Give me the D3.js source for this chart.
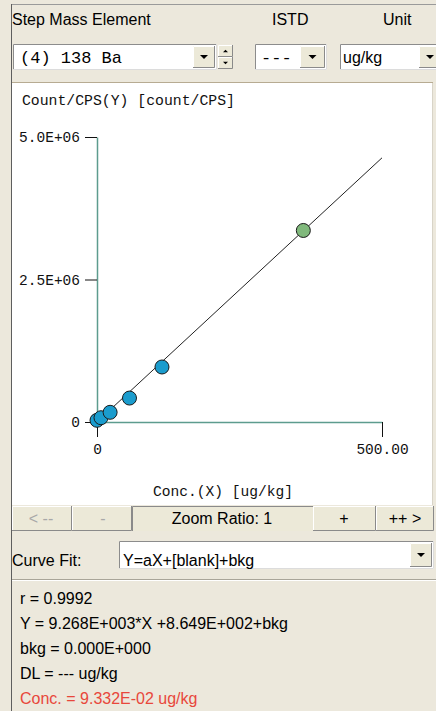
<!DOCTYPE html>
<html>
<head>
<meta charset="utf-8">
<title>Calibration curve - 138 Ba</title>
<script src="https://d3js.org/d3.v7.min.js"></script>
<style>
body { margin:0; background:#ece8dc; }
svg { display:block; }
.ui { font: 16px "Liberation Sans", Arial, sans-serif; fill:#000; }
.mono { font-family: "Liberation Mono", "DejaVu Sans Mono", monospace; font-size:17px; }
.dis { fill:#a8a8a8; }
.red { fill:#e8473b; }
.plot-text { font: 15px "Liberation Mono", monospace; fill:#111; }
.axis .domain { stroke:#5d9c8e; stroke-width:1.5px; }
.axis .tick line { stroke:#111; }
.axis .tick text { font: 14.5px "Liberation Mono", monospace; fill:#111; }
.fit { stroke:#222; stroke-width:1px; fill:none; }
</style>
</head>
<body>
<svg id="chart" width="436" height="711"></svg>
<script>
// calibration standards: conc (ug/kg) and signal (count/CPS)
const concX = [0, 7, 23, 57, 114, 362];
const countY = [30000, 75000, 170000, 420000, 965000, 3360000];
const highlight = 5; // last standard drawn green
const xTicks = [0, 500];
const yTicks = [0, 2.5e6, 5e6];
// fit: Y = a*X + b
const fitA = 9.268e3;
const fitB = 8.649e2;
const statLines = [
  "r = 0.9992",
  "Y = 9.268E+003*X +8.649E+002+bkg",
  "bkg = 0.000E+000",
  "DL = --- ug/kg",
  "Conc. = 9.332E-02 ug/kg"
];

const svg = d3.select("#chart");
const face = "#ece9d8";

//---- little windows widgets
function raised(x, y, w, h) {
  svg.append("rect").attr("x", x).attr("y", y).attr("width", w).attr("height", h).attr("fill", face);
  svg.append("path").attr("d", `M${x+0.5},${y+h}V${y+0.5}H${x+w}`).attr("stroke", "#fff").attr("fill", "none");
  svg.append("path").attr("d", `M${x},${y+h-0.5}H${x+w-0.5}V${y}`).attr("stroke", "#8a8a8a").attr("fill", "none");
}
function sunken(x, y, w, h) {
  svg.append("rect").attr("x", x).attr("y", y).attr("width", w).attr("height", h).attr("fill", "#fff");
  svg.append("path").attr("d", `M${x+0.5},${y+h}V${y+0.5}H${x+w}`).attr("stroke", "#8c8c8c").attr("fill", "none");
  svg.append("path").attr("d", `M${x},${y+h-0.5}H${x+w-0.5}V${y}`).attr("stroke", "#dcdcdc").attr("fill", "none");
}
function arrow(cx, cy, s, up) {
  const d = up ? `M${cx-s},${cy+s/2}L${cx+s},${cy+s/2}L${cx},${cy-s/2}Z`
               : `M${cx-s},${cy-s/2}L${cx+s},${cy-s/2}L${cx},${cy+s/2}Z`;
  svg.append("path").attr("d", d).attr("fill", "#000");
}
function dropBtn(x, y, w, h) {
  raised(x, y, w, h);
  arrow(x + w/2, y + h/2, 4, false);
}
function label(txt, x, y, cls, anchor) {
  return svg.append("text").attr("class", cls).attr("x", x).attr("y", y)
    .attr("text-anchor", anchor || "start").text(txt);
}

// window frame
svg.append("line").attr("x1", 11).attr("x2", 436).attr("y1", 4.5).attr("y2", 4.5).attr("stroke", "#9a9a9a");

// header row
label("Step Mass Element", 12, 25, "ui");
label("ISTD", 272, 25, "ui");
label("Unit", 383, 25, "ui");

// element combo
sunken(13, 44, 204, 26);
label("(4) 138 Ba", 20, 63, "mono");
dropBtn(193, 46, 22, 22);
// spinner
raised(218, 45, 15, 12);
raised(218, 57, 15, 12);
arrow(225.5, 51, 2.5, true);
arrow(225.5, 63, 2.5, false);
// ISTD combo
sunken(255, 44, 72, 26);
label("---", 261, 63, "mono");
dropBtn(300, 46, 25, 22);
// unit combo
sunken(340, 44, 100, 26);
label("ug/kg", 343, 63, "ui");
dropBtn(419, 46, 22, 22);

// plot panel
svg.append("rect").attr("x", 12).attr("y", 83).attr("width", 421).attr("height", 422).attr("fill", "#fff");
svg.append("line").attr("x1", 12).attr("x2", 433).attr("y1", 82.5).attr("y2", 82.5).attr("stroke", "#b7ab92");
svg.append("line").attr("x1", 432.5).attr("x2", 432.5).attr("y1", 83).attr("y2", 505).attr("stroke", "#d8d4c8");

//---- chart
const x = d3.scaleLinear().domain([0, 500]).range([97, 382]);
const y = d3.scaleLinear().domain([0, 5e6]).range([422, 137]);

function fmtE(d) {
  if (d === 0) return "0";
  const p = d.toExponential(1).split("e");
  const n = +p[1];
  return p[0] + "E" + (n < 0 ? "-" : "+") + String(Math.abs(n)).padStart(2, "0");
}

label("Count/CPS(Y) [count/CPS]", 22, 105, "plot-text").attr("textLength", 213).attr("lengthAdjust", "spacingAndGlyphs");

svg.append("g").attr("class", "axis")
  .attr("transform", `translate(${x(0)},0)`)
  .call(d3.axisLeft(y).tickValues(yTicks).tickSize(12).tickSizeOuter(0).tickPadding(5).tickFormat(fmtE));

svg.append("g").attr("class", "axis")
  .attr("transform", `translate(0,${y(0)})`)
  .call(d3.axisBottom(x).tickValues(xTicks).tickSize(15).tickSizeOuter(0).tickPadding(7)
    .tickFormat(d => d === 0 ? "0" : d.toFixed(2)));

svg.selectAll(".axis text").attr("fill", "#111");

label("Conc.(X) [ug/kg]", 153, 496, "plot-text").attr("textLength", 140).attr("lengthAdjust", "spacingAndGlyphs");

const fitLine = d3.line().x(d => x(d)).y(d => y(fitA * d + fitB));
svg.append("path").attr("class", "fit").attr("d", fitLine(x.domain()));

svg.selectAll(".pt")
  .data(concX.map((c, i) => ({ c: c, v: countY[i], i: i })))
  .enter().append("circle")
  .attr("class", "pt")
  .attr("cx", d => x(d.c))
  .attr("cy", d => y(d.v))
  .attr("r", 7)
  .attr("fill", d => d.i === highlight ? "#80b97c" : "#1b9ccd")
  .attr("stroke", "#1a1a1a")
  .attr("stroke-width", 1);

//---- zoom button row
raised(12, 506, 60, 25);
label("< --", 41, 524, "ui dis", "middle");
raised(72, 506, 60, 25);
label("-", 103, 524, "ui dis", "middle");
svg.append("rect").attr("x", 132).attr("y", 506).attr("width", 181).attr("height", 25).attr("fill", face);
svg.append("path").attr("d", "M132.5,531V506.5H313").attr("stroke", "#8a8a8a").attr("fill", "none");
label("Zoom Ratio: 1", 222, 524, "ui", "middle");
raised(313, 506, 63, 25);
label("+", 344, 524, "ui", "middle").attr("font-weight", "bold");
raised(376, 506, 58, 25);
label("++ >", 405, 524, "ui", "middle").attr("font-weight", "bold");

//---- curve fit
label("Curve Fit:", 12, 566, "ui");
sunken(119, 541, 315, 28);
label("Y=aX+[blank]+bkg", 123, 566, "ui");
dropBtn(410, 543, 22, 24);

svg.append("line").attr("x1", 12).attr("x2", 436).attr("y1", 579.5).attr("y2", 579.5).attr("stroke", "#a9a599");
svg.append("line").attr("x1", 12).attr("x2", 436).attr("y1", 580.5).attr("y2", 580.5).attr("stroke", "#fff");

//---- statistics
statLines.forEach((t, i) => {
  label(t, 20, 604 + i * 25, i === statLines.length - 1 ? "ui red" : "ui");
});

// left edge of the window
svg.append("line").attr("x1", 11.5).attr("x2", 11.5).attr("y1", 4).attr("y2", 711).attr("stroke", "#5e5e5e");
</script>
</body>
</html>
